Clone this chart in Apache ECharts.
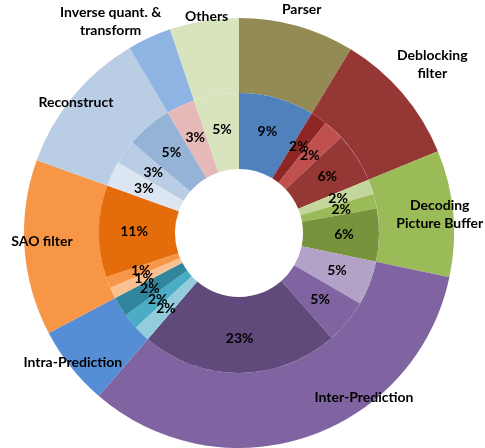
<!DOCTYPE html>
<html>
<head>
<meta charset="utf-8">
<script src="https://cdn.jsdelivr.net/npm/echarts@6/dist/echarts.min.js"></script>
<style>
html,body{margin:0;padding:0;background:#fff;}
#chart{width:485px;height:448px;}
</style>
</head>
<body>
<div id="chart"></div>
<script>
// ---- data (percent of decoding time) ----
const groupNames = ['Parser', 'Deblocking\nfilter', 'Decoding\nPicture Buffer', 'Inter-Prediction',
  'Intra-Prediction', 'SAO filter', 'Reconstruct', 'Inverse quant. &\ntransform', 'Others'];
const parser = [8.7];
const deblocking = [1.9, 2.4, 5.8];
const dpb = [1.7, 1.7, 6.1];
const interPred = [5.1, 5.1, 22.8];
const intraPred = [1.9, 1.8, 2.3];
const sao = [1.3, 1.3, 10.6];
const reconstruct = [2.9, 2.8, 5.3];
const invQuant = [3.3];
const others = [5.2];
const groupValues = [parser, deblocking, dpb, interPred, intraPred, sao, reconstruct, invQuant, others];

// ---- styles ----
const outerColors = ['#948A54', '#953735', '#9BBB59', '#8064A2', '#558ED5', '#F79646', '#B9CDE5', '#8EB4E3', '#D7E4BD'];
const innerColors = [
  ['#4F81BD'],
  ['#8E2626', '#C0504D', '#953735'],
  ['#C3D69B', '#9BBB59', '#77933C'],
  ['#B3A2C7', '#8064A2', '#604A7B'],
  ['#93CDDD', '#4BACC6', '#31859C'],
  ['#FAC090', '#F79646', '#E46C0A'],
  ['#DCE6F2', '#B9CDE5', '#95B3D7'],
  ['#E6B9B8'],
  ['#D7E4BD']
];
const outerLabelOffsets = [[14, -50], [56, -51], [21, -2], [67, -6], [-25, 17], [-17, -4], [-24, -15], [-53, -47], [-3, -38]];

const FONT = 'Lato, "Liberation Sans", sans-serif';

const outerData = groupNames.map((name, i) => ({
  name: name,
  value: groupValues[i].reduce((a, b) => a + b, 0),
  itemStyle: { color: outerColors[i] },
  label: { offset: outerLabelOffsets[i] }
}));

const innerData = [];
groupValues.forEach((vals, gi) => {
  vals.forEach((v, j) => {
    innerData.push({ name: groupNames[gi] + ' ' + (j + 1), value: v, itemStyle: { color: innerColors[gi][j] } });
  });
});

const chart = echarts.init(document.getElementById('chart'), null, { renderer: 'canvas' });
chart.setOption({
  animation: false,
  backgroundColor: '#ffffff',
  series: [
    {
      type: 'pie',
      center: [239, 233],
      radius: [140, 215],
      startAngle: 90,
      clockwise: true,
      avoidLabelOverlap: false,
      minShowLabelAngle: 0,
      labelLayout: { hideOverlap: false },
      silent: true,
      itemStyle: { borderWidth: 0 },
      label: {
        show: true,
        position: 'inside',
        color: '#000',
        fontFamily: FONT,
        fontWeight: 'bold',
        fontSize: 14,
        lineHeight: 18,
        align: 'center',
        formatter: p => p.name
      },
      labelLine: { show: false },
      data: outerData
    },
    {
      type: 'pie',
      center: [239, 233],
      radius: [64, 140],
      startAngle: 90,
      clockwise: true,
      avoidLabelOverlap: false,
      minShowLabelAngle: 0,
      labelLayout: { hideOverlap: false },
      silent: true,
      itemStyle: { borderWidth: 0 },
      label: {
        show: true,
        position: 'inside',
        color: '#000',
        fontFamily: FONT,
        fontWeight: 'bold',
        fontSize: 14,
        formatter: p => Math.round(p.value) + '%'
      },
      labelLine: { show: false },
      data: innerData
    }
  ]
});
</script>
</body>
</html>
